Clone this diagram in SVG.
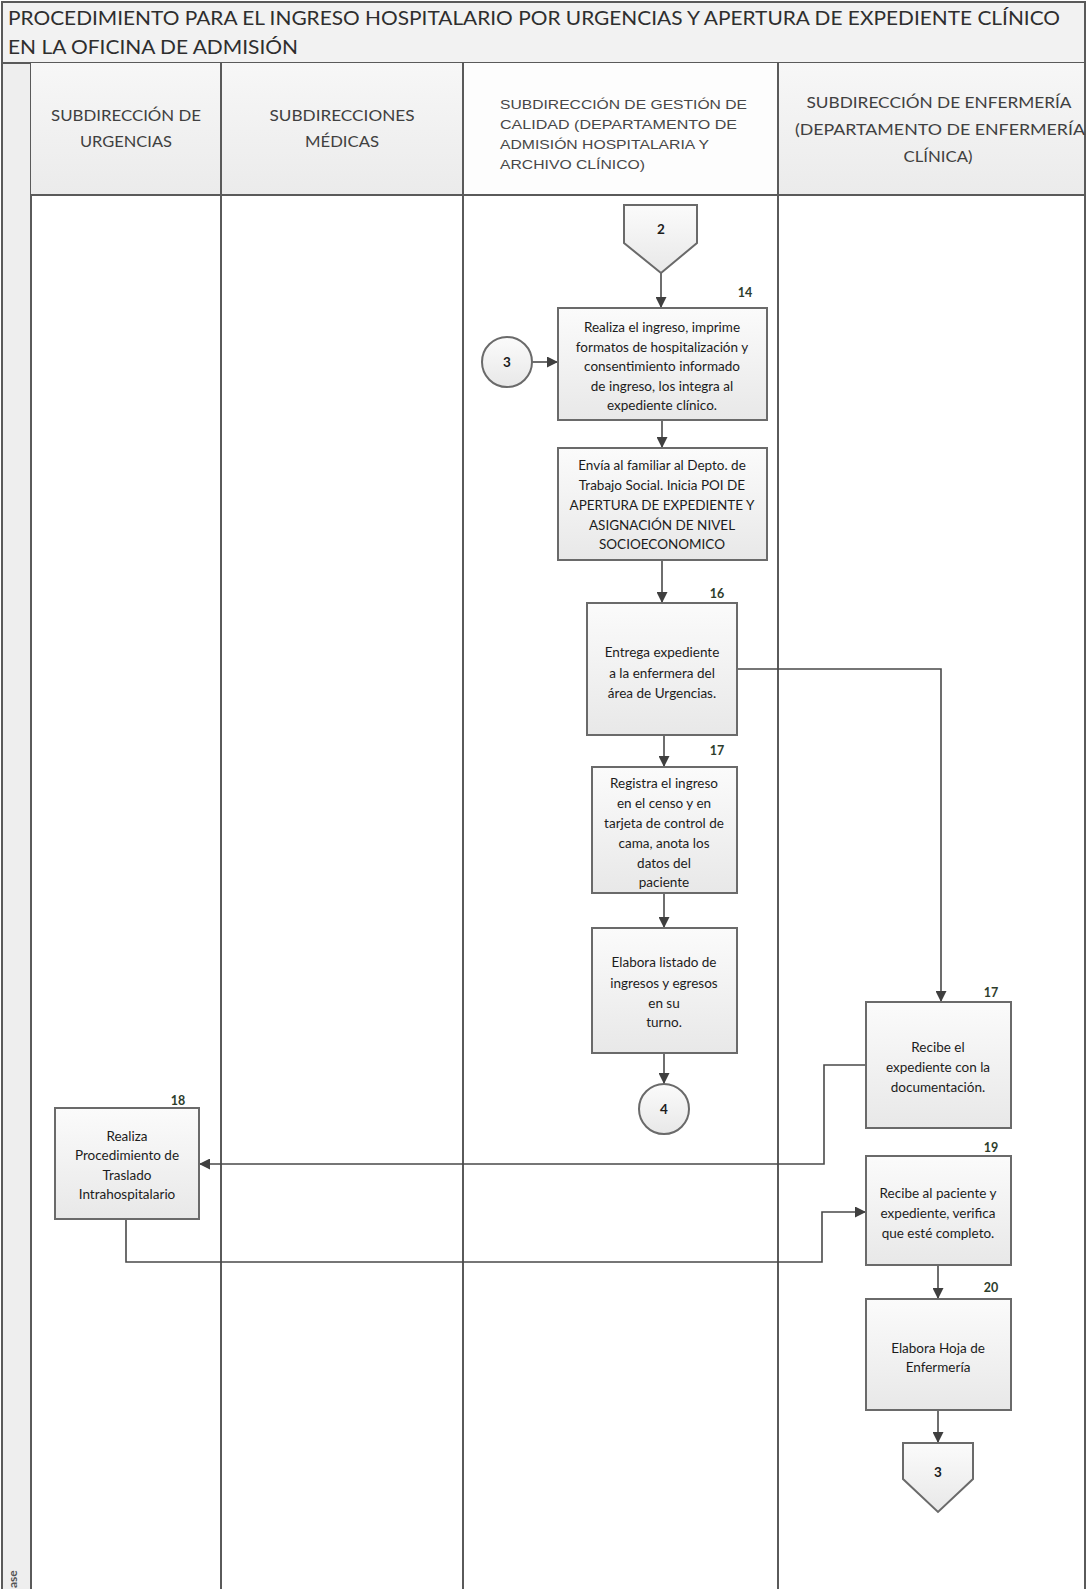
<svg xmlns="http://www.w3.org/2000/svg" width="1086" height="1589" viewBox="0 0 1086 1589">
<defs>
<linearGradient id="boxg" x1="0" y1="0" x2="0" y2="1">
<stop offset="0" stop-color="#fbfbfb"/>
<stop offset="1" stop-color="#e8e8e8"/>
</linearGradient>
<linearGradient id="hdrg" x1="0" y1="0" x2="0" y2="1">
<stop offset="0" stop-color="#f7f7f7"/>
<stop offset="1" stop-color="#ebebeb"/>
</linearGradient>
<marker id="arr" viewBox="0 0 10 10" refX="10" refY="5" markerWidth="12" markerHeight="11" markerUnits="userSpaceOnUse" orient="auto">
<path d="M0,0 L10,5 L0,10 z" fill="#3f3f3f"/>
</marker>
</defs>
<style>
.lane{stroke:#5a5a5a;stroke-width:2;fill:none}
.box{fill:url(#boxg);stroke:#6a6a6a;stroke-width:2}
.conn{fill:none;stroke:#4a4a4a;stroke-width:1.6}
.t{font-family:Lato,"Open Sans","DejaVu Sans",sans-serif;font-size:13.5px;fill:#1c1c1c;text-anchor:middle}
.num{font-family:Lato,"Open Sans",sans-serif;font-size:12.5px;font-weight:bold;fill:#2e3d2c;text-anchor:middle}
.hd{font-family:Lato,"Open Sans",sans-serif;font-size:14.5px;fill:#404040;text-anchor:middle}
.hd3{font-family:"Liberation Sans","DejaVu Sans",sans-serif;font-size:13px;fill:#474747}
.title{font-family:Lato,"Open Sans",sans-serif;font-size:19px;fill:#2e2e2e}
</style>
<rect x="0" y="0" width="1086" height="1589" fill="#ffffff"/>
<g id="frame">
<rect x="2" y="2" width="1090" height="61" fill="#f2f2f2" stroke="#5a5a5a" stroke-width="2"/>
<text class="title" x="8" y="25" textLength="1052" lengthAdjust="spacingAndGlyphs">PROCEDIMIENTO PARA EL INGRESO HOSPITALARIO POR URGENCIAS Y APERTURA DE EXPEDIENTE CLÍNICO</text>
<text class="title" x="8" y="54" textLength="290" lengthAdjust="spacingAndGlyphs">EN LA OFICINA DE ADMISIÓN</text>
<rect x="2" y="63" width="29" height="1530" fill="#eeeeee" stroke="#5a5a5a" stroke-width="2"/>
<text font-family="Lato,sans-serif" font-size="12" font-weight="bold" fill="#555" transform="translate(17,1588) rotate(-90)">ase</text>
<rect x="31" y="63" width="190" height="132" fill="url(#hdrg)"/>
<rect x="221" y="63" width="242" height="132" fill="url(#hdrg)"/>
<rect x="463" y="63" width="315" height="132" fill="#fdfdfd"/>
<rect x="778" y="63" width="310" height="132" fill="url(#hdrg)"/>
<line class="lane" x1="31" y1="195" x2="1088" y2="195"/>
<line class="lane" x1="221" y1="63" x2="221" y2="1592"/>
<line class="lane" x1="463" y1="63" x2="463" y2="1592"/>
<line class="lane" x1="778" y1="63" x2="778" y2="1592"/>
<line class="lane" x1="1085" y1="2" x2="1085" y2="1592"/>
<text class="hd" x="126" y="121" textLength="150" lengthAdjust="spacingAndGlyphs">SUBDIRECCIÓN DE</text>
<text class="hd" x="126" y="147" textLength="92" lengthAdjust="spacingAndGlyphs">URGENCIAS</text>
<text class="hd" x="342" y="121" textLength="145" lengthAdjust="spacingAndGlyphs">SUBDIRECCIONES</text>
<text class="hd" x="342" y="147" textLength="74" lengthAdjust="spacingAndGlyphs">MÉDICAS</text>
<text class="hd3" x="500" y="109" textLength="247" lengthAdjust="spacingAndGlyphs">SUBDIRECCIÓN DE GESTIÓN DE</text>
<text class="hd3" x="500" y="129" textLength="237" lengthAdjust="spacingAndGlyphs">CALIDAD (DEPARTAMENTO DE</text>
<text class="hd3" x="500" y="149" textLength="209" lengthAdjust="spacingAndGlyphs">ADMISIÓN HOSPITALARIA Y</text>
<text class="hd3" x="500" y="169" textLength="145" lengthAdjust="spacingAndGlyphs">ARCHIVO CLÍNICO)</text>
<text class="hd" x="939" y="108" textLength="265" lengthAdjust="spacingAndGlyphs">SUBDIRECCIÓN DE ENFERMERÍA</text>
<text class="hd" x="940" y="135" textLength="290" lengthAdjust="spacingAndGlyphs">(DEPARTAMENTO DE ENFERMERÍA</text>
<text class="hd" x="938" y="162" textLength="69" lengthAdjust="spacingAndGlyphs">CLÍNICA)</text>
</g>
<g id="connectors">
<line class="conn" x1="661" y1="273" x2="661" y2="308" marker-end="url(#arr)"/>
<line class="conn" x1="532" y1="362" x2="558" y2="362" marker-end="url(#arr)"/>
<line class="conn" x1="662" y1="420" x2="662" y2="448" marker-end="url(#arr)"/>
<line class="conn" x1="662" y1="560" x2="662" y2="603" marker-end="url(#arr)"/>
<line class="conn" x1="664" y1="735" x2="664" y2="767" marker-end="url(#arr)"/>
<line class="conn" x1="664" y1="893" x2="664" y2="928" marker-end="url(#arr)"/>
<line class="conn" x1="664" y1="1053" x2="664" y2="1084" marker-end="url(#arr)"/>
<polyline class="conn" points="737,669 941,669 941,1002" marker-end="url(#arr)"/>
<polyline class="conn" points="866,1065 824,1065 824,1164 199,1164" marker-end="url(#arr)"/>
<polyline class="conn" points="126,1219 126,1262 822,1262 822,1212 866,1212" marker-end="url(#arr)"/>
<line class="conn" x1="938" y1="1265" x2="938" y2="1299" marker-end="url(#arr)"/>
<line class="conn" x1="938" y1="1410" x2="938" y2="1443" marker-end="url(#arr)"/>
</g>
<g id="offpage2">
<polygon class="box" points="624,205 697,205 697,243 661,273 624,243"/>
<text class="t" x="661" y="234" font-weight="bold">2</text>
</g>
<g id="conn3">
<circle class="box" cx="507" cy="362" r="25"/>
<text class="t" x="507" y="367" font-weight="bold">3</text>
</g>
<g id="step14">
<rect class="box" x="558" y="308" width="209" height="112"/>
<text class="num" x="745" y="297">14</text>
<text class="t" x="662" y="332">Realiza el ingreso, imprime</text>
<text class="t" x="662" y="352">formatos de hospitalización y</text>
<text class="t" x="662" y="371">consentimiento informado</text>
<text class="t" x="662" y="391">de ingreso, los integra al</text>
<text class="t" x="662" y="410">expediente clínico.</text>
</g>
<g id="step15">
<rect class="box" x="558" y="448" width="209" height="112"/>
<text class="t" x="662" y="470">Envía al familiar al Depto. de</text>
<text class="t" x="662" y="490">Trabajo Social. Inicia POI DE</text>
<text class="t" x="662" y="510">APERTURA DE EXPEDIENTE Y</text>
<text class="t" x="662" y="530">ASIGNACIÓN DE NIVEL</text>
<text class="t" x="662" y="549">SOCIOECONOMICO</text>
</g>
<g id="step16">
<rect class="box" x="587" y="603" width="150" height="132"/>
<text class="num" x="717" y="598">16</text>
<text class="t" x="662" y="657">Entrega expediente</text>
<text class="t" x="662" y="678">a la enfermera del</text>
<text class="t" x="662" y="698">área de  Urgencias.</text>
</g>
<g id="step17a">
<rect class="box" x="592" y="767" width="145" height="126"/>
<text class="num" x="717" y="755">17</text>
<text class="t" x="664" y="788">Registra el ingreso</text>
<text class="t" x="664" y="808">en el censo y en</text>
<text class="t" x="664" y="828">tarjeta de control de</text>
<text class="t" x="664" y="848">cama, anota los</text>
<text class="t" x="664" y="868">datos del</text>
<text class="t" x="664" y="887">paciente</text>
</g>
<g id="step17b">
<rect class="box" x="592" y="928" width="145" height="125"/>
<text class="t" x="664" y="967">Elabora listado de</text>
<text class="t" x="664" y="988">ingresos y egresos</text>
<text class="t" x="664" y="1008">en su</text>
<text class="t" x="664" y="1027">turno.</text>
</g>
<g id="conn4">
<circle class="box" cx="664" cy="1109" r="25"/>
<text class="t" x="664" y="1114" font-weight="bold">4</text>
</g>
<g id="step17c">
<rect class="box" x="866" y="1002" width="145" height="126"/>
<text class="num" x="991" y="997">17</text>
<text class="t" x="938" y="1052">Recibe el</text>
<text class="t" x="938" y="1072">expediente con la</text>
<text class="t" x="938" y="1092">documentación.</text>
</g>
<g id="step18">
<rect class="box" x="55" y="1108" width="144" height="111"/>
<text class="num" x="178" y="1105">18</text>
<text class="t" x="127" y="1141">Realiza</text>
<text class="t" x="127" y="1160">Procedimiento de</text>
<text class="t" x="127" y="1180">Traslado</text>
<text class="t" x="127" y="1199">Intrahospitalario</text>
</g>
<g id="step19">
<rect class="box" x="866" y="1156" width="145" height="109"/>
<text class="num" x="991" y="1152">19</text>
<text class="t" x="938" y="1198">Recibe al paciente y</text>
<text class="t" x="938" y="1218">expediente, verifica</text>
<text class="t" x="938" y="1238">que esté completo.</text>
</g>
<g id="step20">
<rect class="box" x="866" y="1299" width="145" height="111"/>
<text class="num" x="991" y="1292">20</text>
<text class="t" x="938" y="1353">Elabora Hoja de</text>
<text class="t" x="938" y="1372">Enfermería</text>
</g>
<g id="offpage3">
<polygon class="box" points="903,1443 973,1443 973,1479 938,1512 903,1479"/>
<text class="t" x="938" y="1477" font-weight="bold">3</text>
</g>
</svg>
